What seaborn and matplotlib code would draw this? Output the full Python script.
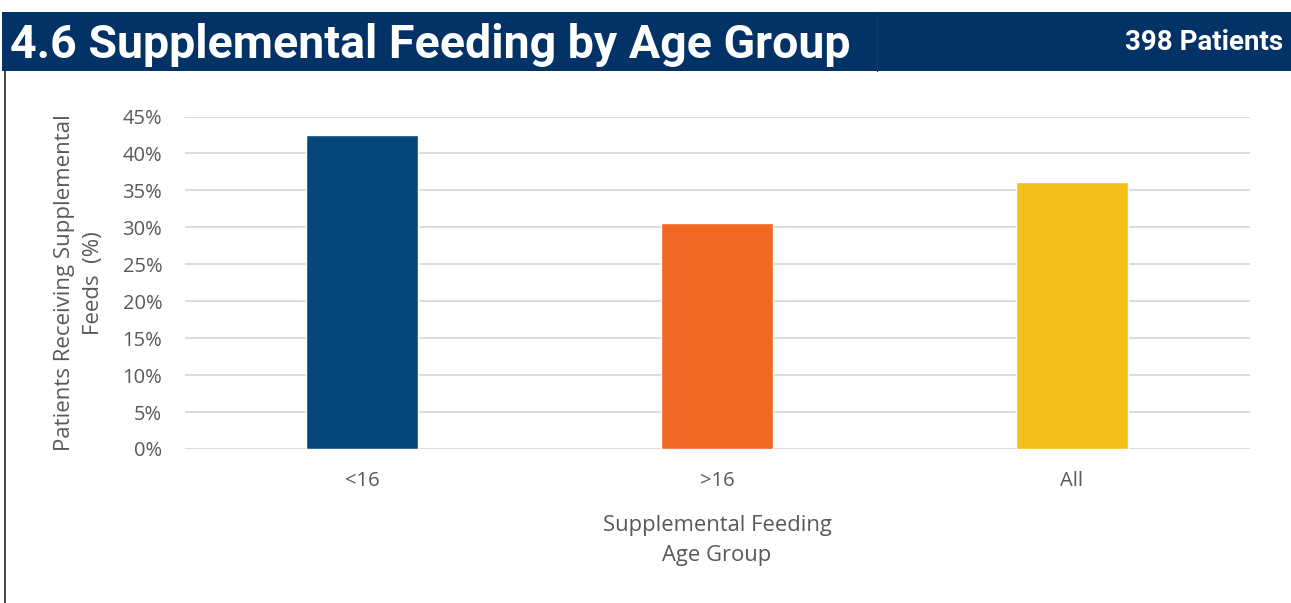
import matplotlib
matplotlib.use("Agg")
import matplotlib.pyplot as plt
import seaborn as sns
import pandas as pd
from matplotlib.patches import Rectangle
from matplotlib.lines import Line2D
from matplotlib.ticker import PercentFormatter

categories = ["<16", ">16", "All"]
values = [42.5, 30.6, 36.1]
colors = ["#04477A", "#F26722", "#F4BF18"]
yticks = [0, 5, 10, 15, 20, 25, 30, 35, 40, 45]

sns.set_theme(style="white")
plt.rcParams['font.family'] = ['Open Sans', 'DejaVu Sans']

df = pd.DataFrame({"group": categories, "value": values})

fig = plt.figure(figsize=(12.91, 6.03), dpi=100)
ax = fig.add_axes([184.5/1291, 1-449/603, (1249.5-184.5)/1291, (449-116.5)/603])

sns.barplot(data=df, x="group", y="value", hue="group", palette=colors,
            width=0.315, legend=False, ax=ax, saturation=1, zorder=3)

ax.set_ylim(0, 45)
ax.set_xlim(-0.5, 2.5)
ax.set_yticks(yticks)
ax.yaxis.set_major_formatter(PercentFormatter(decimals=0))
ax.grid(axis="y", color="#D9D9D9", linewidth=1.3, zorder=0)
ax.set_axisbelow(True)
for s in ax.spines.values():
    s.set_visible(False)
ax.tick_params(axis="both", length=0, labelsize=14.5, colors="#595959")
ax.tick_params(axis="y", pad=16)
ax.tick_params(axis="x", pad=16)
ax.set_xlabel("Supplemental Feeding\nAge Group", fontsize=15.8, color="#595959", labelpad=17, linespacing=1.55)
ax.set_ylabel("Patients Receiving Supplemental\nFeeds  (%)", fontsize=16, color="#595959", labelpad=13, linespacing=1.5)

# header band
fig.patches.append(Rectangle((2/1291, 1-71/603), 1289/1291, 59/603, transform=fig.transFigure,
                             facecolor="#033366", edgecolor="none", zorder=0))
fig.lines.append(Line2D([877/1291, 877/1291], [1-71/603, 1-12/603], transform=fig.transFigure,
                        color="#0B3C70", linewidth=1.0))
fig.lines.append(Line2D([4.5/1291, 4.5/1291], [0, 1-71/603], transform=fig.transFigure,
                        color="#222222", linewidth=1.2))
fig.text(10/1291, 1-45/603, "4.6 Supplemental Feeding by Age Group", color="white",
         fontsize=33.5, fontweight="bold", va="center", ha="left",
         family=['Roboto', 'DejaVu Sans'])
fig.text(1283/1291, 1-43/603, "398 Patients", color="white",
         fontsize=20, fontweight="bold", va="center", ha="right",
         family=['Roboto', 'DejaVu Sans'])

fig.savefig("out.png", dpi=100)
